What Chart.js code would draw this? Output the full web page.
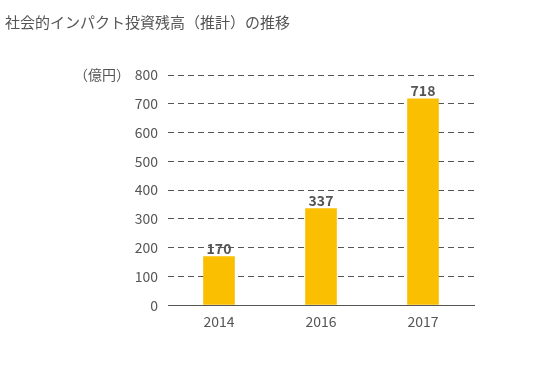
<!DOCTYPE html>
<html>
<head>
<meta charset="utf-8">
<script src="https://cdn.jsdelivr.net/npm/chart.js@4"></script>
<style>
html,body{margin:0;padding:0;background:#fff;}
#wrap{width:540px;height:365px;position:relative;}
</style>
</head>
<body>
<div id="wrap"><canvas id="myChart" width="540" height="365"></canvas></div>
<script>
var years=["2014","2016","2017"];
var amounts=[170,337,718];
var yTicks=[0,100,200,300,400,500,600,700,800];
var titleText="社会的インパクト投資残高（推計）の推移";
var unitText="（億円）";

var FONT="'Noto Sans CJK JP','Noto Sans',sans-serif";
var GRAY="#555555";

var extras={
    id:"extras",
    afterDraw:function(chart){
        var ctx=chart.ctx;
        var yScale=chart.scales.y;
        ctx.save();
        // title
        ctx.fillStyle=GRAY;
        ctx.font="15px "+FONT;
        ctx.textAlign="left";
        ctx.textBaseline="middle";
        ctx.fillText(titleText,5,22);
        // unit
        ctx.font="14px "+FONT;
        ctx.textAlign="right";
        ctx.fillText(unitText,130,yScale.getPixelForValue(800));
        // value labels
        ctx.font="bold 14px "+FONT;
        ctx.textAlign="center";
        ctx.textBaseline="bottom";
        var meta=chart.getDatasetMeta(0);
        meta.data.forEach(function(bar,i){
            ctx.fillText(String(amounts[i]),bar.x,bar.y-1);
        });
        ctx.restore();
    }
};

var ctx=document.getElementById("myChart").getContext("2d");
var myChart=new Chart(ctx,{
    type:"bar",
    data:{
        labels:years,
        datasets:[
            {
                data:amounts,
                backgroundColor:"#F9BF00",
                categoryPercentage:1,
                barPercentage:0.31
            }
        ]
    },
    options:{
        responsive:false,
        animation:false,
        layout:{padding:{left:0,right:66,top:75,bottom:27}},
        plugins:{legend:{display:false},tooltip:{enabled:false}},
        scales:{
            x:{
                grid:{display:false,drawTicks:false},
                border:{display:true,color:GRAY,width:1},
                ticks:{color:GRAY,font:{family:FONT,size:14},padding:8}
            },
            y:{
                min:0,
                max:800,
                afterBuildTicks:function(scale){
                    scale.ticks=yTicks.map(function(v){return {value:v};});
                },
                afterFit:function(scale){scale.width=168;},
                grid:{
                    drawTicks:false,
                    color:function(c){return c.tick&&c.tick.value===0?"rgba(0,0,0,0)":GRAY;},
                    lineWidth:1
                },
                border:{display:false,dash:[6,4]},
                ticks:{color:GRAY,font:{family:FONT,size:14},padding:10}
            }
        }
    },
    plugins:[extras]
});
</script>
</body>
</html>
